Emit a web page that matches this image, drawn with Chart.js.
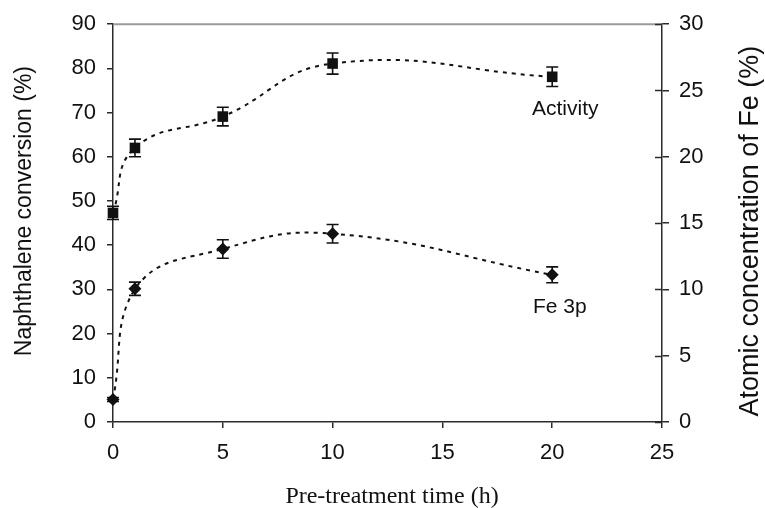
<!DOCTYPE html>
<html>
<head>
<meta charset="utf-8">
<script src="https://cdn.jsdelivr.net/npm/chart.js@4/dist/chart.umd.min.js"></script>
<style>
  html, body { margin: 0; padding: 0; background: #fff; }
  #wrap { width: 765px; height: 508px; }
</style>
</head>
<body>
<div id="wrap"><canvas id="c" width="765" height="508"></canvas></div>
<script>
// Pre-treatment time (h)
const times = [0, 1, 5, 10, 20];
// Naphthalene conversion (%) and its error
const activity = [47.3, 62.0, 69.1, 81.1, 78.1];
const activityErr = [1.5, 2.0, 2.1, 2.4, 2.2];
// Atomic concentration of Fe (%) from Fe 3p, and its error
const fe3p = [1.7, 10.05, 13.05, 14.2, 11.1];
const fe3pErr = [0.15, 0.5, 0.7, 0.7, 0.6];

const xTicks = { min: 0, max: 25, step: 5 };
const yLeftTicks = { min: 0, max: 90, step: 10 };
const yRightTicks = { min: 0, max: 30, step: 5 };

const INK = '#111';
const AXIS = '#2b2b2b';
const SANS = '"Liberation Sans", Arial, sans-serif';
const SERIF = '"Liberation Serif", "Times New Roman", serif';

const toPoints = (xs, ys) => xs.map((x, i) => ({ x, y: ys[i] }));

// vertical error bars with caps
const errorBars = {
  id: 'errorBars',
  afterDatasetsDraw(chart) {
    const ctx = chart.ctx;
    const xs = chart.scales.x;
    chart.data.datasets.forEach((ds) => {
      if (!ds.errors) return;
      const ys = chart.scales[ds.yAxisID];
      ctx.save();
      ctx.strokeStyle = INK;
      ctx.lineWidth = 1.6;
      ds.data.forEach((p, i) => {
        const e = ds.errors[i];
        const px = xs.getPixelForValue(p.x);
        const top = ys.getPixelForValue(p.y + e);
        const bot = ys.getPixelForValue(p.y - e);
        ctx.beginPath();
        ctx.moveTo(px, top); ctx.lineTo(px, bot);
        ctx.moveTo(px - 6, top); ctx.lineTo(px + 6, top);
        ctx.moveTo(px - 6, bot); ctx.lineTo(px + 6, bot);
        ctx.stroke();
      });
      ctx.restore();
    });
  }
};

// top frame line and the inner half of the right-axis cross ticks
const frame = {
  id: 'frame',
  beforeDatasetsDraw(chart) {
    const { ctx, chartArea: a } = chart;
    ctx.save();
    ctx.strokeStyle = '#9a9a9a';
    ctx.lineWidth = 2;
    ctx.beginPath();
    ctx.moveTo(a.left, a.top);
    ctx.lineTo(a.right, a.top);
    ctx.stroke();
    const r = chart.scales.y2;
    ctx.strokeStyle = AXIS;
    ctx.lineWidth = 1.5;
    r.ticks.forEach((t, i) => {
      const py = Math.round(r.getPixelForTick(i)) + 0.5;
      ctx.beginPath();
      ctx.moveTo(a.right - 7, py);
      ctx.lineTo(a.right, py);
      ctx.stroke();
    });
    ctx.restore();
  }
};

// axis titles and series labels
const texts = {
  id: 'texts',
  afterDraw(chart) {
    const { ctx, chartArea: a } = chart;
    ctx.save();
    ctx.fillStyle = INK;
    ctx.textAlign = 'center';
    ctx.textBaseline = 'middle';

    ctx.save();
    ctx.translate(25, (a.top + a.bottom) / 2 - 12);
    ctx.rotate(-Math.PI / 2);
    ctx.font = '23px ' + SANS;
    ctx.fillText('Naphthalene conversion (%)', 0, 0);
    ctx.restore();

    ctx.save();
    ctx.translate(751, (a.top + a.bottom) / 2 + 8);
    ctx.rotate(-Math.PI / 2);
    ctx.font = '27px ' + SANS;
    ctx.fillText('Atomic concentration of Fe (%)', 0, 0);
    ctx.restore();

    ctx.font = '24px ' + SERIF;
    ctx.fillText('Pre-treatment time (h)', 392, 497);

    ctx.textAlign = 'left';
    ctx.font = '21px ' + SANS;
    ctx.fillText('Activity', 532, 109);
    ctx.fillText('Fe 3p', 533, 307);
    ctx.restore();
  }
};

const tickFont = { family: SANS, size: 22 };

new Chart(document.getElementById('c'), {
  type: 'scatter',
  data: {
    datasets: [
      {
        label: 'Activity',
        yAxisID: 'y',
        data: toPoints(times, activity),
        errors: activityErr,
        showLine: true,
        clip: false,
        tension: 0.45,
        borderColor: INK,
        borderWidth: 2,
        borderDash: [4, 5],
        pointStyle: 'rect',
        pointRadius: 7.5,
        pointBackgroundColor: INK,
        pointBorderColor: INK,
        pointBorderWidth: 0
      },
      {
        label: 'Fe 3p',
        yAxisID: 'y2',
        data: toPoints(times, fe3p),
        errors: fe3pErr,
        showLine: true,
        clip: false,
        tension: 0.45,
        borderColor: INK,
        borderWidth: 2,
        borderDash: [4, 5],
        pointStyle: 'rectRot',
        pointRadius: 6.5,
        pointBackgroundColor: INK,
        pointBorderColor: INK,
        pointBorderWidth: 0
      }
    ]
  },
  options: {
    responsive: false,
    animation: false,
    layout: { padding: { top: 23, left: 0, right: 0, bottom: 0 } },
    plugins: { legend: { display: false }, tooltip: { enabled: false } },
    scales: {
      x: {
        type: 'linear',
        min: xTicks.min, max: xTicks.max,
        ticks: { stepSize: xTicks.step, color: INK, font: tickFont, padding: 12, maxRotation: 0 },
        grid: { drawOnChartArea: false, drawTicks: true, tickLength: 6, color: AXIS, lineWidth: 1.5 },
        border: { display: true, color: AXIS, width: 1.5 },
        afterFit(s) { s.height = 86; }
      },
      y: {
        position: 'left',
        min: yLeftTicks.min, max: yLeftTicks.max,
        ticks: { stepSize: yLeftTicks.step, color: INK, font: tickFont, padding: 11 },
        grid: { drawOnChartArea: false, drawTicks: true, tickLength: 6, color: AXIS, lineWidth: 1.5 },
        border: { display: true, color: AXIS, width: 1.5 },
        afterFit(s) { s.width = 113; }
      },
      y2: {
        position: 'right',
        min: yRightTicks.min, max: yRightTicks.max,
        ticks: { stepSize: yRightTicks.step, color: INK, font: tickFont, padding: 10 },
        grid: { drawOnChartArea: false, drawTicks: true, tickLength: 7, color: AXIS, lineWidth: 1.5 },
        border: { display: true, color: AXIS, width: 1.5 },
        afterFit(s) { s.width = 103; }
      }
    }
  },
  plugins: [frame, errorBars, texts]
});
</script>
</body>
</html>
